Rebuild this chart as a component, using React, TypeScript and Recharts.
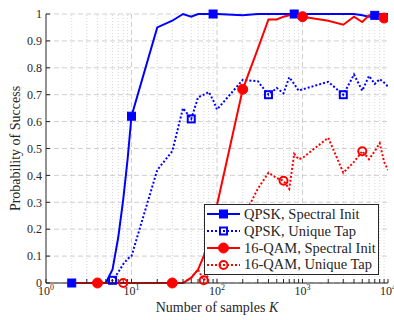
import { LineChart, Line, XAxis, YAxis, CartesianGrid, ReferenceLine } from "recharts";

const FONT = "'Liberation Serif', 'DejaVu Serif', serif";
const INK = "#262626";

// K values where the success rate was measured
const samples = [
  2, 3, 4, 5, 6, 7, 8, 9,
  10, 20, 30, 40, 50, 60, 70, 80, 90,
  100, 200, 300, 400, 500, 600, 700, 800, 900,
  1000, 2000, 3000, 4000, 5000, 6000, 7000, 8000, 9000,
  10000,
];

const qpskSpectral = [
  0, 0, 0, 0, 0.05, 0.17, 0.31, 0.46,
  0.62, 0.95, 0.975, 1, 0.99, 1, 1, 1, 1,
  1, 0.995, 1, 1, 1, 1, 1, 1, 1,
  1, 1, 1, 1, 0.995, 0.99, 0.995, 1, 1,
  1,
];

const qpskUnique = [
  0, 0, 0, 0, 0.01, 0.04, 0.07, 0.09,
  0.1, 0.42, 0.49, 0.65, 0.61, 0.69, 0.7, 0.71, 0.68,
  0.645, 0.755, 0.75, 0.7, 0.725, 0.705, 0.765, 0.74, 0.715,
  0.72, 0.748, 0.7, 0.775, 0.715, 0.77, 0.74, 0.758, 0.745,
  0.73,
];

const qamSpectral = [
  0, 0, 0, 0, 0, 0, 0, 0,
  0, 0, 0, 0, 0.02, 0.05, 0.1, 0.16, 0.22,
  0.29, 0.72, 0.87, 0.98, 0.98, 0.99, 0.995, 0.995, 0.995,
  0.99, 0.975, 0.96, 0.99, 0.97, 0.995, 1, 1, 0.985,
  0.99,
];

const qamUnique = [
  0, 0, 0, 0, 0, 0, 0, 0,
  0, 0, 0, 0, 0.02, 0.05, 0.01, 0.03, 0.05,
  0.08, 0.24, 0.35, 0.41, 0.39, 0.38, 0.35, 0.48, 0.46,
  0.465, 0.54, 0.41, 0.45, 0.49, 0.46, 0.49, 0.52, 0.45,
  0.42,
];

const decadeTicks = [1, 10, 100, 1000, 10000];
const minorTicks = [
  2, 3, 4, 5, 6, 7, 8, 9,
  20, 30, 40, 50, 60, 70, 80, 90,
  200, 300, 400, 500, 600, 700, 800, 900,
  2000, 3000, 4000, 5000, 6000, 7000, 8000, 9000,
];
const xTicks = [...decadeTicks, ...minorTicks].sort((a, b) => a - b);
const yTicks = [0, 0.1, 0.2, 0.3, 0.4, 0.5, 0.6, 0.7, 0.8, 0.9, 1];

const series = [
  { key: "qpskSpectral", name: "QPSK, Spectral Init", color: "#0000ff", dotted: false, shape: "square", filled: true, offset: 0 },
  { key: "qpskUnique", name: "QPSK, Unique Tap", color: "#0000ff", dotted: true, shape: "square", filled: false, offset: 4 },
  { key: "qamSpectral", name: "16-QAM, Spectral Init", color: "#ff0000", dotted: false, shape: "circle", filled: true, offset: 2 },
  { key: "qamUnique", name: "16-QAM, Unique Tap", color: "#ff0000", dotted: true, shape: "circle", filled: false, offset: 6 },
];

const data = samples.map((k, i) => ({
  k,
  qpskSpectral: qpskSpectral[i],
  qpskUnique: qpskUnique[i],
  qamSpectral: qamSpectral[i],
  qamUnique: qamUnique[i],
}));

function Marker({ cx, cy, shape, filled, color }: any) {
  if (shape === "square") {
    const s = filled ? 8 : 7;
    return (
      <rect x={cx - s / 2} y={cy - s / 2} width={s} height={s}
        fill={filled ? color : "none"} stroke={color} strokeWidth={filled ? 1 : 2} />
    );
  }
  return (
    <circle cx={cx} cy={cy} r={filled ? 5 : 4}
      fill={filled ? color : "none"} stroke={color} strokeWidth={filled ? 1 : 2} />
  );
}

function XTick({ x, y, payload }: any) {
  const e = Math.log10(payload.value);
  if (Math.abs(e - Math.round(e)) > 1e-6) return <g />;
  return (
    <text x={x} y={y + 9} textAnchor="middle" fontSize={12} fill={INK} fontFamily={FONT}>
      10<tspan dy={-5} fontSize={8}>{Math.round(e)}</tspan>
    </text>
  );
}

const EmptyTick = () => <g />;

function Legend() {
  return (
    <div style={{
      position: "absolute", left: 204, top: 204, width: 173, height: 68,
      background: "#fff", border: `1px solid ${INK}`, fontFamily: FONT,
      fontSize: 14.5, color: INK, paddingTop: 1,
    }}>
      {series.map((s) => (
        <div key={s.key} style={{ display: "flex", alignItems: "center", height: 16.8 }}>
          <svg width={36} height={14} style={{ marginLeft: 1 }}>
            <line x1={1} y1={7} x2={34} y2={7} stroke={s.color} strokeWidth={2}
              strokeDasharray={s.dotted ? "2 2" : undefined} />
            <Marker cx={17.5} cy={7} shape={s.shape} filled={s.filled} color={s.color} />
          </svg>
          <span style={{ marginLeft: 2, whiteSpace: "nowrap" }}>{s.name}</span>
        </div>
      ))}
    </div>
  );
}

export default function App() {
  return (
    <div style={{ position: "absolute", left: 0, top: 0, width: 394, height: 320, background: "#fff", fontFamily: FONT }}>
      <LineChart width={394} height={320} data={data} margin={{ top: 14, right: 6, left: 0, bottom: 0 }}>
        <CartesianGrid vertical={false} stroke="#cfcfcf" strokeDasharray="5 3" />
        {minorTicks.map((v) => (
          <ReferenceLine key={"m" + v} x={v} stroke="#d6d6d6" strokeDasharray="1 2" />
        ))}
        {decadeTicks.slice(1, -1).map((v) => (
          <ReferenceLine key={"d" + v} x={v} stroke="#cfcfcf" strokeDasharray="5 3" />
        ))}
        <XAxis dataKey="k" type="number" scale="log" domain={[1, 10000]} allowDataOverflow
          ticks={xTicks} interval={0} tick={<XTick />} tickSize={-4} tickMargin={7}
          height={37} stroke={INK}
          label={{
            content: ({ viewBox }: any) => (
              <text x={viewBox.x + viewBox.width / 2} y={312} textAnchor="middle"
                fontSize={14} fill={INK} fontFamily={FONT}>
                Number of samples <tspan fontStyle="italic">K</tspan>
              </text>
            ),
          }} />
        <XAxis xAxisId="top" orientation="top" type="number" scale="log" domain={[1, 10000]}
          allowDataOverflow ticks={xTicks} interval={0} tick={<EmptyTick />} tickSize={-4}
          height={0} stroke={INK} />
        <YAxis type="number" domain={[0, 1]} ticks={yTicks} interval={0} tickSize={-4} tickMargin={8}
          width={46} stroke={INK}
          tick={{ fontSize: 12, fill: INK, fontFamily: FONT }}
          tickFormatter={(v: number) => String(Math.round(v * 10) / 10)}
          label={{
            content: ({ viewBox }: any) => (
              <text transform={`translate(19.5, ${viewBox.y + viewBox.height / 2}) rotate(-90)`}
                textAnchor="middle" fontSize={14} fill={INK} fontFamily={FONT}>
                Probability of Success
              </text>
            ),
          }} />
        <YAxis yAxisId="right" orientation="right" type="number" domain={[0, 1]} ticks={yTicks}
          interval={0} tickSize={-4} width={0} tick={<EmptyTick />} stroke={INK} />
        {series.map((s) => (
          <Line key={s.key} dataKey={s.key} type="linear" stroke={s.color} strokeWidth={2}
            strokeDasharray={s.dotted ? "2 2" : undefined} isAnimationActive={false}
            dot={(p: any) =>
              p.index % 8 === s.offset
                ? <Marker key={p.index} cx={p.cx} cy={p.cy} shape={s.shape} filled={s.filled} color={s.color} />
                : <g key={p.index} />
            }
            activeDot={false} />
        ))}
      </LineChart>
      <Legend />
    </div>
  );
}
